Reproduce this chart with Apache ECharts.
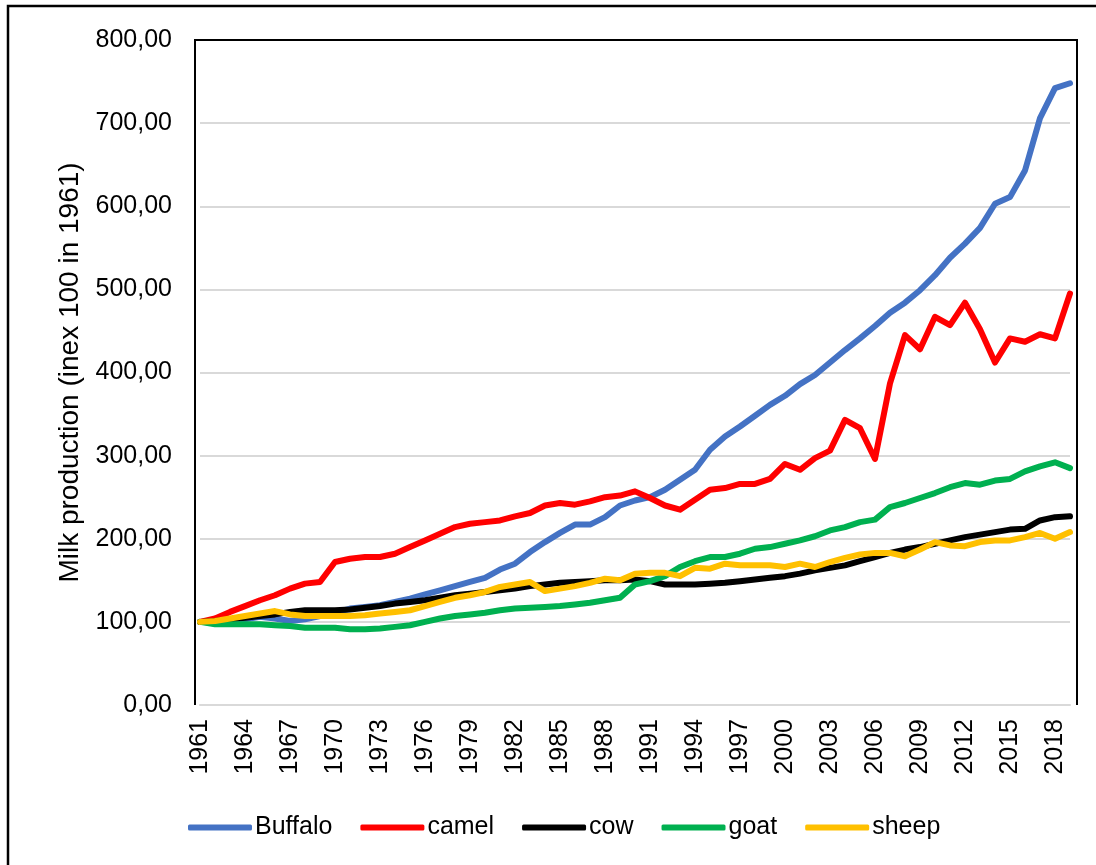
<!DOCTYPE html>
<html>
<head>
<meta charset="utf-8">
<script src="https://cdn.jsdelivr.net/npm/echarts@6/dist/echarts.min.js"></script>
<style>
html,body{margin:0;padding:0;background:#fff;}
#chart{width:1096px;height:865px;}
</style>
</head>
<body>
<div id="chart"></div>
<script>
const years = [];
for (let y = 1961; y <= 2019; y++) years.push(String(y));

const seriesNames = ['Buffalo', 'camel', 'cow', 'goat', 'sheep'];
const seriesColors = ['#4472C4', '#FF0000', '#000000', '#00B050', '#FFC000'];

const buffalo = [100, 99, 100, 103, 106, 104, 101, 103, 107, 111,
  116, 118, 120, 124, 128, 133, 138, 143, 148, 153,
  163, 170, 184, 196, 207, 217, 217, 226, 240, 246,
  250, 259, 271, 283, 307, 323, 335, 348, 361, 372,
  386, 397, 412, 427, 441, 456, 472, 484, 499, 517,
  538, 555, 574, 603, 611, 643, 706, 742, 748];

const camel = [100, 104, 112, 119, 126, 132, 140, 146, 148, 172,
  176, 178, 178, 182, 190, 198, 206, 214, 218, 220,
  222, 227, 231, 240, 243, 241, 245, 250, 252, 257,
  249, 240, 235, 247, 259, 261, 266, 266, 272, 290,
  283, 297, 306, 343, 333, 296, 387, 445, 428, 467,
  457, 484, 452, 412, 441, 437, 446, 441, 495];

const cow = [100, 101, 103, 105, 107, 109, 112, 114, 114, 114,
  115, 117, 119, 122, 124, 126, 129, 132, 134, 136,
  138, 140, 143, 145, 147, 148, 149, 150, 150, 151,
  149, 145, 145, 145, 146, 147, 149, 151, 153, 155,
  158, 162, 165, 168, 173, 178, 183, 187, 190, 194,
  198, 202, 205, 208, 211, 212, 222, 226, 227];

const goat = [100, 97, 97, 97, 97, 96, 95, 93, 93, 93,
  91, 91, 92, 94, 96, 100, 104, 107, 109, 111,
  114, 116, 117, 118, 119, 121, 123, 126, 129, 145,
  149, 155, 166, 173, 178, 178, 182, 188, 190, 194,
  198, 203, 210, 214, 220, 223, 238, 243, 249, 255,
  262, 267, 265, 270, 272, 281, 287, 292, 285];

const sheep = [100, 101, 104, 107, 110, 113, 109, 107, 107, 107,
  107, 108, 110, 112, 114, 119, 124, 129, 132, 136,
  142, 145, 148, 137, 140, 143, 147, 152, 150, 158,
  159, 159, 155, 165, 164, 170, 168, 168, 168, 166,
  170, 166, 172, 177, 181, 183, 183, 179, 187, 196,
  192, 191, 196, 198, 198, 202, 207, 200, 208];

const seriesData = [buffalo, camel, cow, goat, sheep];

const FONT = '"Liberation Sans", Arial, sans-serif';
const chart = echarts.init(document.getElementById('chart'), null, {renderer: 'canvas'});

chart.setOption({
  animation: false,
  backgroundColor: '#ffffff',
  textStyle: {fontFamily: FONT},
  grid: {left: 200, right: 26, top: 40, bottom: 160, containLabel: false},
  xAxis: {
    type: 'category',
    data: years,
    boundaryGap: false,
    axisLine: {show: true, lineStyle: {color: '#d9d9d9', width: 2}},
    axisTick: {show: false},
    axisLabel: {
      interval: 2,
      rotate: 90,
      margin: 14,
      fontSize: 25,
      color: '#000000',
      fontFamily: FONT
    },
    splitLine: {show: false}
  },
  yAxis: {
    type: 'value',
    min: 0,
    max: 800,
    interval: 100,
    name: 'Milk production (inex 100 in 1961)',
    nameLocation: 'middle',
    nameGap: 114,
    nameTextStyle: {fontSize: 28, color: '#000000', fontFamily: FONT},
    axisLine: {show: false},
    axisTick: {show: false},
    axisLabel: {
      margin: 28,
      fontSize: 25,
      color: '#000000',
      fontFamily: FONT,
      formatter: v => v.toFixed(2).replace('.', ',')
    },
    splitLine: {show: true, lineStyle: {color: '#d9d9d9', width: 2}}
  },
  legend: {
    data: seriesNames,
    left: 183,
    top: 810,
    itemWidth: 64,
    itemHeight: 6,
    itemGap: 28,
    icon: 'roundRect',
    textStyle: {fontSize: 25, color: '#000000', fontFamily: FONT, padding: [0, 0, 0, -2]}
  },
  graphic: [
    {
      type: 'rect',
      silent: true,
      shape: {x: 8, y: 6, width: 1300, height: 1000},
      style: {fill: 'none', stroke: '#000000', lineWidth: 2.5}
    },
    {
      type: 'polyline',
      silent: true,
      z: 100,
      shape: {points: [[195, 705], [195, 40], [1077, 40], [1077, 705]]},
      style: {fill: 'none', stroke: '#000000', lineWidth: 2}
    }
  ],
  series: seriesNames.map((n, i) => ({
    name: n,
    type: 'line',
    data: seriesData[i],
    showSymbol: false,
    symbol: 'none',
    lineStyle: {color: seriesColors[i], width: 6, cap: 'round', join: 'round'},
    itemStyle: {color: seriesColors[i]},
    z: 2 + i
  }))
});
</script>
</body>
</html>
